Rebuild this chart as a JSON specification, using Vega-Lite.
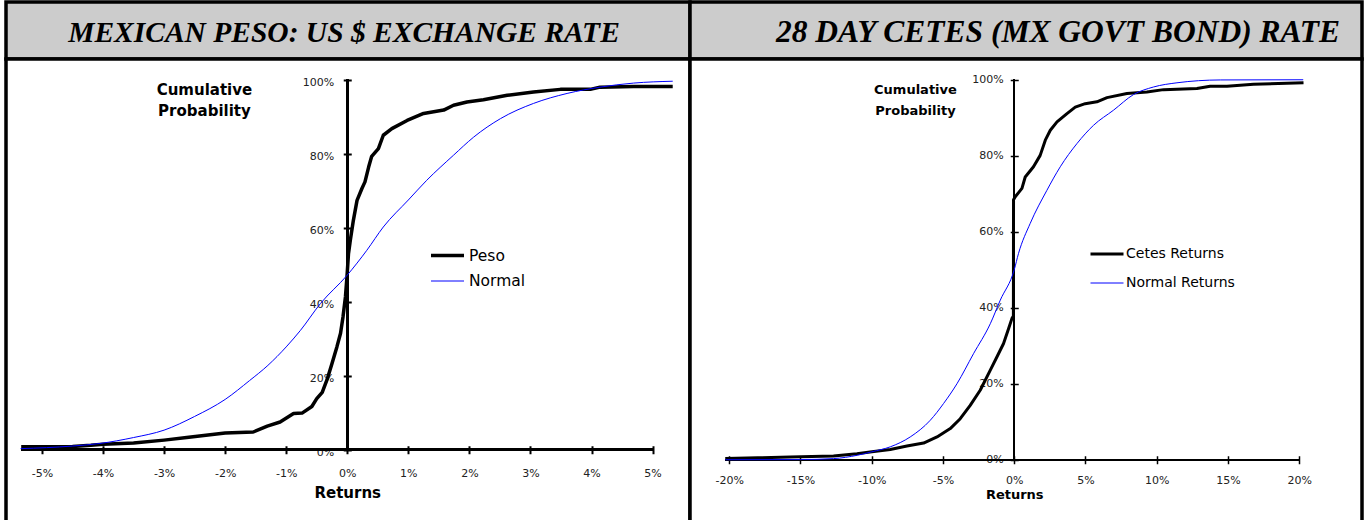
{
  "$schema": "https://vega.github.io/schema/vega-lite/v6.json",
  "padding": {"left": 4, "top": 0, "right": 3, "bottom": 0},
  "background": "white",
  "bounds": "flush",
  "spacing": 0,
  "columns": 2,
  "align": "each",
  "config": {
    "view": {"stroke": null},
    "axis": {"grid": false, "domain": false, "tickColor": "black", "tickSize": 8, "labelFont": "DejaVu Sans", "labelFontSize": 11, "labelColor": "#222222", "titleFont": "DejaVu Sans", "titleFontWeight": "bold", "titleColor": "black", "labelOverlap": false, "labelFlush": false, "titleAngle": 0, "titleAlign": "center", "titleBaseline": "alphabetic", "labelExpr": "replace(datum.label, '\u2212', '-')"},
    "legend": {"title": null, "symbolType": "stroke", "symbolSize": 1089, "labelFont": "DejaVu Sans", "labelColor": "black", "padding": 0, "orient": "none"}
  },
  "resolve": {"scale": {"color": "independent", "strokeWidth": "independent"}, "legend": {"color": "independent", "strokeWidth": "independent"}},
  "concat": [
    {
      "width": 684, "height": 57,
      "view": {"fill": "#cccccc", "stroke": "black", "strokeWidth": 3.5},
      "data": {"values": [{"t": "MEXICAN PESO: US $ EXCHANGE RATE"}]},
      "mark": {"type": "text", "font": "Liberation Serif", "fontSize": 29.5, "fontStyle": "italic", "fontWeight": "bold", "baseline": "alphabetic", "dy": 11.5, "dx": -4, "color": "black"},
      "encoding": {"text": {"field": "t"}}
    },
    {
      "width": 672, "height": 57,
      "view": {"fill": "#cccccc", "stroke": "black", "strokeWidth": 3.5},
      "data": {"values": [{"t": "28 DAY CETES (MX GOVT BOND) RATE"}]},
      "mark": {"type": "text", "font": "Liberation Serif", "fontSize": 31.5, "fontStyle": "italic", "fontWeight": "bold", "baseline": "alphabetic", "dy": 11.5, "dx": 32, "color": "black"},
      "encoding": {"text": {"field": "t"}}
    },
    {
      "width": 684, "height": 464,
      "view": {"fill": "white", "stroke": "black", "strokeWidth": 3.5},
      "data": {"values": [
        {"s": "Peso", "r": -0.0534, "p": 0.008}, {"s": "Peso", "r": -0.045, "p": 0.009}, {"s": "Peso", "r": -0.042, "p": 0.012}, {"s": "Peso", "r": -0.040, "p": 0.015},
        {"s": "Peso", "r": -0.035, "p": 0.018}, {"s": "Peso", "r": -0.030, "p": 0.026}, {"s": "Peso", "r": -0.0263, "p": 0.033}, {"s": "Peso", "r": -0.020, "p": 0.045},
        {"s": "Peso", "r": -0.0154, "p": 0.048}, {"s": "Peso", "r": -0.0131, "p": 0.064}, {"s": "Peso", "r": -0.0110, "p": 0.075}, {"s": "Peso", "r": -0.0088, "p": 0.098},
        {"s": "Peso", "r": -0.0074, "p": 0.099}, {"s": "Peso", "r": -0.0058, "p": 0.117}, {"s": "Peso", "r": -0.0050, "p": 0.138}, {"s": "Peso", "r": -0.0041, "p": 0.155},
        {"s": "Peso", "r": -0.0033, "p": 0.19}, {"s": "Peso", "r": -0.0025, "p": 0.233}, {"s": "Peso", "r": -0.0017, "p": 0.278}, {"s": "Peso", "r": -0.0011, "p": 0.315},
        {"s": "Peso", "r": -0.0007, "p": 0.359}, {"s": "Peso", "r": -0.0003, "p": 0.413}, {"s": "Peso", "r": -0.00005, "p": 0.467}, {"s": "Peso", "r": 0.0002, "p": 0.53},
        {"s": "Peso", "r": 0.0005, "p": 0.566}, {"s": "Peso", "r": 0.0010, "p": 0.62}, {"s": "Peso", "r": 0.0016, "p": 0.674}, {"s": "Peso", "r": 0.0024, "p": 0.706},
        {"s": "Peso", "r": 0.0029, "p": 0.724}, {"s": "Peso", "r": 0.0035, "p": 0.764}, {"s": "Peso", "r": 0.0040, "p": 0.793}, {"s": "Peso", "r": 0.0051, "p": 0.814},
        {"s": "Peso", "r": 0.0059, "p": 0.85}, {"s": "Peso", "r": 0.0073, "p": 0.868}, {"s": "Peso", "r": 0.0098, "p": 0.89}, {"s": "Peso", "r": 0.0125, "p": 0.909},
        {"s": "Peso", "r": 0.0158, "p": 0.918}, {"s": "Peso", "r": 0.0174, "p": 0.931}, {"s": "Peso", "r": 0.0196, "p": 0.94}, {"s": "Peso", "r": 0.0223, "p": 0.946},
        {"s": "Peso", "r": 0.0262, "p": 0.958}, {"s": "Peso", "r": 0.0305, "p": 0.967}, {"s": "Peso", "r": 0.0349, "p": 0.974}, {"s": "Peso", "r": 0.0398, "p": 0.974},
        {"s": "Peso", "r": 0.0414, "p": 0.98}, {"s": "Peso", "r": 0.0469, "p": 0.982}, {"s": "Peso", "r": 0.0533, "p": 0.982},
        {"s": "Normal", "r": -0.0535, "p": 0.003}, {"s": "Normal", "r": -0.045, "p": 0.010}, {"s": "Normal", "r": -0.0405, "p": 0.017}, {"s": "Normal", "r": -0.035, "p": 0.033},
        {"s": "Normal", "r": -0.030, "p": 0.053}, {"s": "Normal", "r": -0.025, "p": 0.09}, {"s": "Normal", "r": -0.020, "p": 0.136}, {"s": "Normal", "r": -0.016, "p": 0.187},
        {"s": "Normal", "r": -0.013, "p": 0.228}, {"s": "Normal", "r": -0.010, "p": 0.278}, {"s": "Normal", "r": -0.0077, "p": 0.322}, {"s": "Normal", "r": -0.0044, "p": 0.395},
        {"s": "Normal", "r": 0.0, "p": 0.472}, {"s": "Normal", "r": 0.0032, "p": 0.539}, {"s": "Normal", "r": 0.0059, "p": 0.602}, {"s": "Normal", "r": 0.010, "p": 0.675},
        {"s": "Normal", "r": 0.013, "p": 0.728}, {"s": "Normal", "r": 0.0174, "p": 0.796}, {"s": "Normal", "r": 0.0207, "p": 0.845}, {"s": "Normal", "r": 0.0251, "p": 0.895},
        {"s": "Normal", "r": 0.0305, "p": 0.936}, {"s": "Normal", "r": 0.036, "p": 0.963}, {"s": "Normal", "r": 0.0414, "p": 0.98}, {"s": "Normal", "r": 0.0469, "p": 0.991},
        {"s": "Normal", "r": 0.0533, "p": 0.996}
      ]},
      "layer": [
        {
          "mark": {"type": "rule", "color": "black", "strokeWidth": 2},
          "encoding": {"x": {"datum": 0, "type": "quantitative"}, "y": {"datum": 0, "type": "quantitative"}, "y2": {"datum": 1}}
        },
        {
          "mark": {"type": "rule", "color": "black", "strokeWidth": 2},
          "encoding": {"y": {"datum": 0, "type": "quantitative"}, "x": {"datum": -0.0534, "type": "quantitative"}, "x2": {"datum": 0.05}}
        },
        {
          "transform": [{"filter": "datum.s === 'Peso'"}],
          "mark": {"type": "line", "strokeJoin": "round"},
          "encoding": {
            "x": {"field": "r", "type": "quantitative",
              "scale": {"domain": [-0.05589, 0.05613], "nice": false, "zero": false},
              "axis": {"orient": "bottom", "offset": -77.25, "values": [-0.05, -0.04, -0.03, -0.02, -0.01, 0, 0.01, 0.02, 0.03, 0.04, 0.05], "format": ".0%", "tickWidth": 2, "labelPadding": 14, "title": "Returns", "titleFontSize": 15, "titleX": 341.25, "titleY": 52}},
            "y": {"field": "p", "type": "quantitative",
              "scale": {"domain": [-0.19797, 1.05608], "nice": false, "zero": false},
              "axis": {"orient": "left", "offset": -345.25, "values": [0, 0.2, 0.4, 0.6, 0.8, 1], "format": ".0%", "tickWidth": 2, "labelPadding": 9.5, "labelOffset": 2.5, "title": ["Cumulative", "Probability"], "titleFontSize": 15, "titleLineHeight": 21, "titleX": -147.3, "titleY": 35}},
            "color": {"field": "s", "type": "nominal", "scale": {"domain": ["Peso", "Normal"], "range": ["#000000", "#0000ff"]},
              "legend": {"legendX": 423, "legendY": 178, "labelFontSize": 15.5, "labelOffset": 3, "rowPadding": -6}},
            "strokeWidth": {"field": "s", "type": "nominal", "scale": {"domain": ["Peso", "Normal"], "range": [3.5, 1]},
              "legend": {"legendX": 423, "legendY": 178, "labelFontSize": 15.5, "labelOffset": 3, "rowPadding": -6}}
          }
        },
        {
          "transform": [{"filter": "datum.s === 'Normal'"}],
          "mark": {"type": "line", "interpolate": "monotone"},
          "encoding": {
            "x": {"field": "r", "type": "quantitative"},
            "y": {"field": "p", "type": "quantitative"},
            "color": {"field": "s", "type": "nominal"},
            "strokeWidth": {"field": "s", "type": "nominal"}
          }
        }
      ]
    },
    {
      "width": 672, "height": 464,
      "view": {"fill": "white", "stroke": "black", "strokeWidth": 3.5},
      "data": {"values": [
        {"s": "Cetes Returns", "r": -0.2028, "p": 0.003}, {"s": "Cetes Returns", "r": -0.18, "p": 0.005}, {"s": "Cetes Returns", "r": -0.1572, "p": 0.007}, {"s": "Cetes Returns", "r": -0.1268, "p": 0.010},
        {"s": "Cetes Returns", "r": -0.1104, "p": 0.016}, {"s": "Cetes Returns", "r": -0.0999, "p": 0.021}, {"s": "Cetes Returns", "r": -0.087, "p": 0.027}, {"s": "Cetes Returns", "r": -0.0753, "p": 0.036},
        {"s": "Cetes Returns", "r": -0.0636, "p": 0.044}, {"s": "Cetes Returns", "r": -0.0542, "p": 0.06}, {"s": "Cetes Returns", "r": -0.0449, "p": 0.082}, {"s": "Cetes Returns", "r": -0.0379, "p": 0.108},
        {"s": "Cetes Returns", "r": -0.0309, "p": 0.143}, {"s": "Cetes Returns", "r": -0.0239, "p": 0.183}, {"s": "Cetes Returns", "r": -0.0168, "p": 0.236}, {"s": "Cetes Returns", "r": -0.0121, "p": 0.271},
        {"s": "Cetes Returns", "r": -0.0075, "p": 0.306}, {"s": "Cetes Returns", "r": -0.004, "p": 0.345}, {"s": "Cetes Returns", "r": -0.0016, "p": 0.372}, {"s": "Cetes Returns", "r": -0.0006, "p": 0.378},
        {"s": "Cetes Returns", "r": -0.0005, "p": 0.684}, {"s": "Cetes Returns", "r": 0.0007, "p": 0.692}, {"s": "Cetes Returns", "r": 0.0054, "p": 0.714}, {"s": "Cetes Returns", "r": 0.0077, "p": 0.744},
        {"s": "Cetes Returns", "r": 0.0135, "p": 0.771}, {"s": "Cetes Returns", "r": 0.0182, "p": 0.801}, {"s": "Cetes Returns", "r": 0.0218, "p": 0.841}, {"s": "Cetes Returns", "r": 0.0253, "p": 0.867},
        {"s": "Cetes Returns", "r": 0.030, "p": 0.889}, {"s": "Cetes Returns", "r": 0.037, "p": 0.911}, {"s": "Cetes Returns", "r": 0.0428, "p": 0.928}, {"s": "Cetes Returns", "r": 0.0498, "p": 0.937},
        {"s": "Cetes Returns", "r": 0.058, "p": 0.942}, {"s": "Cetes Returns", "r": 0.0651, "p": 0.953}, {"s": "Cetes Returns", "r": 0.0791, "p": 0.964}, {"s": "Cetes Returns", "r": 0.0931, "p": 0.968},
        {"s": "Cetes Returns", "r": 0.1048, "p": 0.974}, {"s": "Cetes Returns", "r": 0.1282, "p": 0.977}, {"s": "Cetes Returns", "r": 0.1375, "p": 0.983}, {"s": "Cetes Returns", "r": 0.1493, "p": 0.983},
        {"s": "Cetes Returns", "r": 0.1679, "p": 0.988}, {"s": "Cetes Returns", "r": 0.203, "p": 0.992},
        {"s": "Normal Returns", "r": -0.2028, "p": 0.0}, {"s": "Normal Returns", "r": -0.15, "p": 0.0005}, {"s": "Normal Returns", "r": -0.1268, "p": 0.003}, {"s": "Normal Returns", "r": -0.1099, "p": 0.012},
        {"s": "Normal Returns", "r": -0.0999, "p": 0.021}, {"s": "Normal Returns", "r": -0.087, "p": 0.034}, {"s": "Normal Returns", "r": -0.073, "p": 0.06}, {"s": "Normal Returns", "r": -0.0589, "p": 0.104},
        {"s": "Normal Returns", "r": -0.0496, "p": 0.148}, {"s": "Normal Returns", "r": -0.0402, "p": 0.2}, {"s": "Normal Returns", "r": -0.0286, "p": 0.279}, {"s": "Normal Returns", "r": -0.0168, "p": 0.358},
        {"s": "Normal Returns", "r": -0.0098, "p": 0.42}, {"s": "Normal Returns", "r": 0.0, "p": 0.5}, {"s": "Normal Returns", "r": 0.003, "p": 0.543}, {"s": "Normal Returns", "r": 0.0112, "p": 0.622},
        {"s": "Normal Returns", "r": 0.0229, "p": 0.709}, {"s": "Normal Returns", "r": 0.0323, "p": 0.771}, {"s": "Normal Returns", "r": 0.044, "p": 0.832}, {"s": "Normal Returns", "r": 0.0556, "p": 0.88},
        {"s": "Normal Returns", "r": 0.0697, "p": 0.92}, {"s": "Normal Returns", "r": 0.0837, "p": 0.961}, {"s": "Normal Returns", "r": 0.0978, "p": 0.981}, {"s": "Normal Returns", "r": 0.1142, "p": 0.992},
        {"s": "Normal Returns", "r": 0.1446, "p": 0.9995}, {"s": "Normal Returns", "r": 0.2028, "p": 1.0}
      ]},
      "layer": [
        {
          "mark": {"type": "rule", "color": "black", "strokeWidth": 1.5},
          "encoding": {"x": {"datum": 0, "type": "quantitative"}, "y": {"datum": 0, "type": "quantitative"}, "y2": {"datum": 1}}
        },
        {
          "mark": {"type": "rule", "color": "black", "strokeWidth": 1.5},
          "encoding": {"y": {"datum": 0, "type": "quantitative"}, "x": {"datum": -0.2028, "type": "quantitative"}, "x2": {"datum": 0.20}}
        },
        {
          "transform": [{"filter": "datum.s === 'Cetes Returns'"}],
          "mark": {"type": "line", "strokeJoin": "round"},
          "encoding": {
            "x": {"field": "r", "type": "quantitative",
              "scale": {"domain": [-0.22754, 0.24404], "nice": false, "zero": false},
              "axis": {"orient": "bottom", "offset": -67.25, "values": [-0.2, -0.15, -0.1, -0.05, 0, 0.05, 0.1, 0.15, 0.2], "format": ".0%", "tickWidth": 1.5, "labelPadding": 11, "title": "Returns", "titleFontSize": 13, "titleX": 324.25, "titleY": 42.5}},
            "y": {"field": "p", "type": "quantitative",
              "scale": {"domain": [-0.16645, 1.05461], "nice": false, "zero": false},
              "axis": {"orient": "left", "offset": -328.25, "values": [0, 0.2, 0.4, 0.6, 0.8, 1], "format": ".0%", "tickWidth": 1.5, "labelPadding": 7, "labelOffset": 0, "title": ["Cumulative", "Probability"], "titleFontSize": 13, "titleLineHeight": 21.5, "titleX": -103.3, "titleY": 34}},
            "color": {"field": "s", "type": "nominal", "scale": {"domain": ["Cetes Returns", "Normal Returns"], "range": ["#000000", "#0000ff"]},
              "legend": {"legendX": 399, "legendY": 177, "labelFontSize": 14, "labelOffset": 1, "rowPadding": 5}},
            "strokeWidth": {"field": "s", "type": "nominal", "scale": {"domain": ["Cetes Returns", "Normal Returns"], "range": [3, 1]},
              "legend": {"legendX": 399, "legendY": 177, "labelFontSize": 14, "labelOffset": 1, "rowPadding": 5}}
          }
        },
        {
          "transform": [{"filter": "datum.s === 'Normal Returns'"}],
          "mark": {"type": "line", "interpolate": "monotone"},
          "encoding": {
            "x": {"field": "r", "type": "quantitative"},
            "y": {"field": "p", "type": "quantitative"},
            "color": {"field": "s", "type": "nominal"},
            "strokeWidth": {"field": "s", "type": "nominal"}
          }
        }
      ]
    }
  ]
}
